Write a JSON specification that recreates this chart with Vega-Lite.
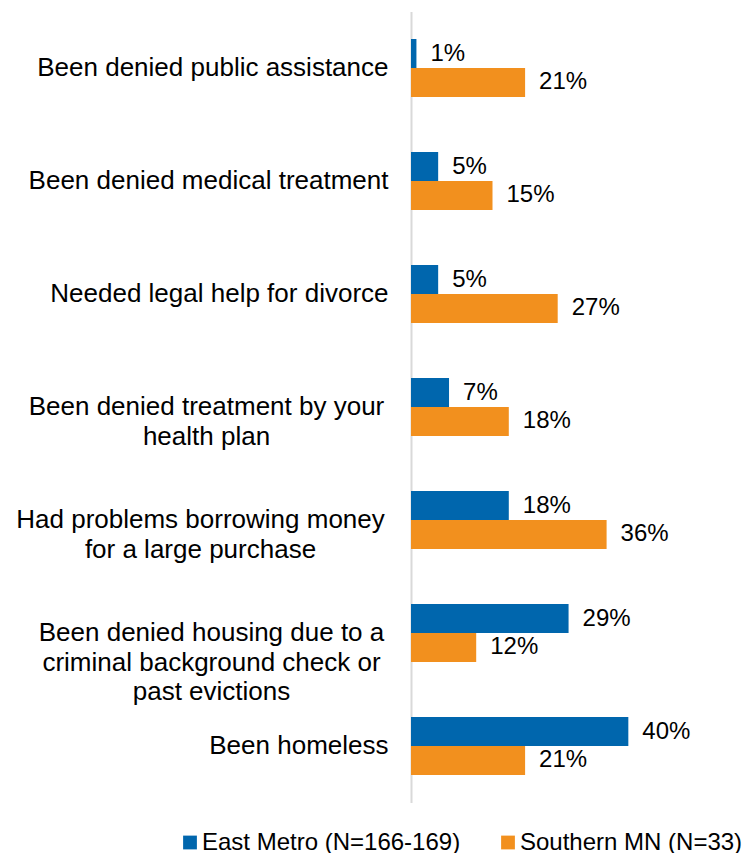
{
  "$schema": "https://vega.github.io/schema/vega-lite/v6.json",
  "width": 326,
  "height": 791,
  "autosize": {"type": "none"},
  "padding": {"left": 411, "top": 11.5, "right": 7, "bottom": 50.5},
  "background": "white",
  "config": {"view": {"stroke": null}, "font": "Liberation Sans"},
  "data": {
    "values": [
      {"item": "Been denied public assistance", "group": "East Metro (N=166-169)", "value": 0.01},
      {"item": "Been denied public assistance", "group": "Southern MN (N=33)", "value": 0.21},
      {"item": "Been denied medical treatment", "group": "East Metro (N=166-169)", "value": 0.05},
      {"item": "Been denied medical treatment", "group": "Southern MN (N=33)", "value": 0.15},
      {"item": "Needed legal help for divorce", "group": "East Metro (N=166-169)", "value": 0.05},
      {"item": "Needed legal help for divorce", "group": "Southern MN (N=33)", "value": 0.27},
      {"item": "Been denied treatment by your|health plan", "group": "East Metro (N=166-169)", "value": 0.07},
      {"item": "Been denied treatment by your|health plan", "group": "Southern MN (N=33)", "value": 0.18},
      {"item": "Had problems borrowing money|for a  large purchase", "group": "East Metro (N=166-169)", "value": 0.18},
      {"item": "Had problems borrowing money|for a  large purchase", "group": "Southern MN (N=33)", "value": 0.36},
      {"item": "Been denied housing due to a|criminal background check or|past evictions", "group": "East Metro (N=166-169)", "value": 0.29},
      {"item": "Been denied housing due to a|criminal background check or|past evictions", "group": "Southern MN (N=33)", "value": 0.12},
      {"item": "Been homeless", "group": "East Metro (N=166-169)", "value": 0.40},
      {"item": "Been homeless", "group": "Southern MN (N=33)", "value": 0.21}
    ]
  },
  "encoding": {
    "y": {
      "field": "item",
      "type": "nominal",
      "sort": [
        "Been denied public assistance",
        "Been denied medical treatment",
        "Needed legal help for divorce",
        "Been denied treatment by your|health plan",
        "Had problems borrowing money|for a  large purchase",
        "Been denied housing due to a|criminal background check or|past evictions",
        "Been homeless"
      ],
      "scale": {"paddingInner": 0.487, "paddingOuter": 0.2435},
      "axis": {
        "title": null,
        "ticks": false,
        "domain": true,
        "domainColor": "#d9d9d9",
        "domainWidth": 2,
        "labelFontSize": 26,
        "labelColor": "black",
        "labelLimit": 0,
        "labelLineHeight": 29.5,
        "labelExpr": "split(datum.label, '|')",
        "labelAlign": {
          "condition": {"test": "indexof(datum.value, '|') >= 0", "value": "center"},
          "value": "right"
        },
        "labelPadding": {
          "condition": [
            {"test": "indexof(datum.value, 'treatment by') >= 0", "value": 205},
            {"test": "indexof(datum.value, 'borrowing') >= 0", "value": 211},
            {"test": "indexof(datum.value, 'housing') >= 0", "value": 200}
          ],
          "value": 23
        }
      }
    },
    "yOffset": {
      "field": "group",
      "type": "nominal",
      "sort": ["East Metro (N=166-169)", "Southern MN (N=33)"],
      "scale": {"paddingInner": 0, "paddingOuter": 0}
    },
    "x": {
      "field": "value",
      "type": "quantitative",
      "scale": {"domain": [0, 0.6], "nice": false},
      "axis": null
    }
  },
  "layer": [
    {
      "mark": {"type": "bar"},
      "encoding": {
        "color": {
          "field": "group",
          "type": "nominal",
          "scale": {
            "domain": ["East Metro (N=166-169)", "Southern MN (N=33)"],
            "range": ["#0066AD", "#F2901E"]
          },
          "legend": {
            "orient": "none",
            "legendX": -233,
            "legendY": 819,
            "direction": "horizontal",
            "title": null,
            "symbolType": "square",
            "symbolSize": 190,
            "symbolStrokeWidth": 0,
            "labelFontSize": 24,
            "labelColor": "black",
            "labelOffset": 0,
            "labelLimit": 0,
            "columnPadding": 35,
            "padding": 0
          }
        }
      }
    },
    {
      "mark": {"type": "text", "align": "left", "baseline": "middle", "dx": 14, "fontSize": 24, "color": "black"},
      "encoding": {
        "text": {"field": "value", "type": "quantitative", "format": ".0%"}
      }
    }
  ]
}
